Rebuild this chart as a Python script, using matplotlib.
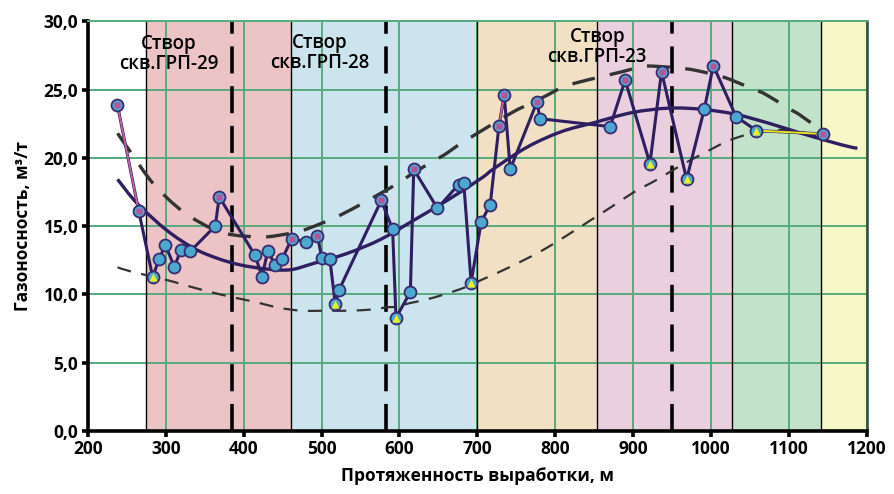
import matplotlib
matplotlib.use("Agg")
import matplotlib.pyplot as plt
from matplotlib.path import Path
from matplotlib.patches import PathPatch

plt.rcParams['font.family'] = ['Open Sans', 'DejaVu Sans']

# Measured gas content along the working (distance, m -> m3/t)
distance = [237.7, 265.2, 283.2, 291.0, 299.5, 311.0, 319.3, 331.3, 363.4, 368.6,
            414.5, 423.5, 430.8, 440.7, 449.3, 461.5, 480.6, 494.7, 500.3, 510.6,
            517.5, 522.2, 576.7, 591.2, 595.5, 614.0, 618.3, 648.8, 675.8, 682.6,
            692.0, 704.9, 716.5, 727.7, 734.5, 742.2, 776.6, 780.4, 870.5, 889.8,
            921.6, 936.5, 968.7, 991.5, 1003.0, 1032.2, 1058.4, 1144.3]
gas_content = [23.9, 16.1, 11.25, 12.57, 13.6, 12.0, 13.27, 13.15, 15.0, 17.13,
               12.86, 11.3, 13.15, 12.15, 12.59, 14.05, 13.86, 14.3, 12.64, 12.59,
               9.29, 10.29, 16.89, 14.76, 8.28, 10.17, 19.16, 16.3, 18.04, 18.14,
               10.85, 15.3, 16.57, 22.3, 24.6, 19.16, 24.1, 22.87, 22.29, 25.7,
               19.58, 26.32, 18.43, 23.59, 26.76, 23.02, 22.0, 21.75]
# point type: c - regular, s - high value, t - low value
point_kind = ['s', 's', 't', 'c', 'c', 'c', 'c', 'c', 'c', 's',
              'c', 'c', 'c', 'c', 'c', 's', 'c', 's', 'c', 'c',
              't', 'c', 's', 'c', 't', 'c', 's', 'c', 'c', 'c',
              't', 'c', 'c', 's', 's', 'c', 's', 'c', 'c', 's',
              't', 's', 't', 'c', 's', 'c', 't', 's']

# General trend of gas content
trend_x = [238, 263, 301, 336, 366, 396, 430, 460, 490, 533, 576, 619, 662, 705,
           722, 765, 808, 850, 898, 945, 988, 1031, 1074, 1116, 1168, 1188]
trend_y = [18.43, 16.67, 14.7, 13.37, 12.64, 12.15, 11.85, 11.8, 12.27, 13.0,
           14.03, 15.45, 16.91, 18.5, 19.24, 20.82, 21.92, 22.58, 23.31, 23.64,
           23.56, 23.2, 22.54, 21.8, 20.95, 20.7]

# Upper envelope
upper_x = [238, 255, 284, 322, 363, 387, 413, 432, 460, 477, 507, 524, 553, 572,
           597, 614, 640, 657, 683, 743, 769, 790, 818, 885, 912, 932, 960, 978,
           1005, 1024, 1054, 1070, 1099, 1114, 1142]
upper_y = [21.8, 20.4, 18.1, 16.06, 14.7, 14.35, 14.22, 14.22, 14.47, 14.7, 15.37,
           15.8, 16.67, 17.28, 18.1, 18.75, 19.65, 20.2, 21.2, 23.27, 24.0, 24.6,
           25.35, 26.3, 26.7, 26.7, 26.57, 26.44, 26.08, 25.76, 25.03, 24.66,
           23.64, 23.15, 22.0]

# Lower envelope
lower_x = [238, 256, 301, 321, 351, 383, 413, 445, 475, 511, 537, 567, 584, 599,
           612, 632, 662, 692, 705, 726, 756, 786, 816, 846, 872, 902, 930, 960,
           992, 1022, 1054, 1097, 1142]
lower_y = [11.98, 11.66, 11.05, 10.73, 10.26, 9.82, 9.46, 9.02, 8.8, 8.8, 8.8, 8.9,
           9.05, 9.09, 9.34, 9.58, 10.07, 10.68, 11.05, 11.58, 12.4, 13.3, 14.35,
           15.45, 16.4, 17.52, 18.38, 19.4, 20.38, 21.24, 21.8, 22.05, 21.55]

# Background zones
zone_edges = [200, 275, 461, 700, 853, 1027, 1141, 1200]
zone_colors = ['#ffffff', '#ecc4c6', '#cce4ee', '#f2e0c4', '#ead0de', '#c2e2ca', '#f5f7c6']

# Well sections
section_x = [385, 583, 950]
section_labels = ['Створ\nскв.ГРП-29', 'Створ\nскв.ГРП-28', 'Створ\nскв.ГРП-23']
label_x = [304, 497, 854]
label_y = [27.6, 27.7, 28.15]

x_ticks = [200, 300, 400, 500, 600, 700, 800, 900, 1000, 1100, 1200]
y_ticks = [0, 5, 10, 15, 20, 25, 30]
y_tick_labels = ['0,0', '5,0', '10,0', '15,0', '20,0', '25,0', '30,0']

line_col = '#2f1f62'
edge_col = '#3a2a70'
grid_col = '#56ab7d'


def smooth_curve(xs, ys):
    """Smoothed line through the points (Catmull-Rom as cubic Bezier)."""
    verts = [(xs[0], ys[0])]
    codes = [Path.MOVETO]
    n = len(xs)
    for i in range(n - 1):
        x0, y0 = (xs[i - 1], ys[i - 1]) if i > 0 else (xs[i], ys[i])
        x1, y1 = xs[i], ys[i]
        x2, y2 = xs[i + 1], ys[i + 1]
        x3, y3 = (xs[i + 2], ys[i + 2]) if i + 2 < n else (x2, y2)
        verts += [(x1 + (x2 - x0) / 6, y1 + (y2 - y0) / 6),
                  (x2 - (x3 - x1) / 6, y2 - (y3 - y1) / 6),
                  (x2, y2)]
        codes += [Path.CURVE4] * 3
    return Path(verts, codes)


fig = plt.figure(figsize=(8.94, 4.94), dpi=100)
ax = fig.add_axes([0.0984, 0.128, 0.8711, 0.8287])
ax.set_xlim(200, 1200)
ax.set_ylim(0, 30)

for i, c in enumerate(zone_colors):
    ax.axvspan(zone_edges[i], zone_edges[i + 1], color=c, lw=0, zorder=0.2)
for e in zone_edges[1:-1]:
    ax.axvline(e, color='black', lw=1.0, zorder=0.7)

ax.set_axisbelow(True)
ax.grid(True, color=grid_col, lw=1.4)

for sx in section_x:
    ax.axvline(sx, color='black', lw=2.6, dashes=(7.5, 3.5), zorder=2)

ax.add_patch(PathPatch(smooth_curve(upper_x, upper_y), fill=False, ec='#333333',
                       lw=2.4, ls=(0, (6.9, 4.6)), zorder=3))
ax.add_patch(PathPatch(smooth_curve(lower_x, lower_y), fill=False, ec='#333333',
                       lw=1.6, ls=(0, (6.3, 4.7)), zorder=3))
ax.add_patch(PathPatch(smooth_curve(trend_x, trend_y), fill=False, ec=line_col,
                       lw=2.4, capstyle='butt', zorder=4))

ax.plot(distance, gas_content, color=line_col, lw=2.2, zorder=5,
        solid_joinstyle='round')
# highlighted segments
for (a, b), col in [((0, 1), '#c0609f'), ((33, 34), '#c0609f'), ((46, 47), '#e6e622')]:
    ax.plot([distance[a], distance[b]], [gas_content[a], gas_content[b]],
            color=col, lw=1.4, zorder=5.5)

ax.plot(distance, gas_content, ls='none', marker='o', ms=8.6,
        mfc='#4ba9cf', mec=edge_col, mew=1.3, zorder=6)
sq = [i for i, k in enumerate(point_kind) if k == 's']
tr = [i for i, k in enumerate(point_kind) if k == 't']
ax.plot([distance[i] for i in sq], [gas_content[i] for i in sq], ls='none',
        marker='s', ms=4.6, mfc='#b4559a', mec='none', zorder=7)
ax.plot([distance[i] for i in tr], [gas_content[i] for i in tr], ls='none',
        marker='^', ms=5.2, mfc='#eef01c', mec='none', zorder=7)

for t, lx, ly in zip(section_labels, label_x, label_y):
    ax.text(lx, ly, t, ha='center', va='center', fontsize=13.5, fontweight='semibold',
            linespacing=1.0, zorder=8)

ax.set_xticks(x_ticks)
ax.set_yticks(y_ticks)
ax.set_yticklabels(y_tick_labels)
for lab in ax.get_xticklabels() + ax.get_yticklabels():
    lab.set_fontweight('bold')
    lab.set_fontsize(12.5)
ax.tick_params(axis='both', direction='out', length=4, width=2.6, color='black')
ax.tick_params(axis='y', pad=3)
ax.tick_params(axis='x', pad=3)

for s in ['left', 'bottom']:
    ax.spines[s].set_linewidth(2.6)
    ax.spines[s].set_color('black')
ax.spines['top'].set_color(grid_col)
ax.spines['top'].set_linewidth(1.4)
ax.spines['right'].set_color('#2d4d3a')
ax.spines['right'].set_linewidth(1.8)

ax.set_xlabel('Протяженность выработки, м', fontsize=12.5, fontweight='bold', labelpad=6)
ax.set_ylabel('Газоносность, м³/т', fontsize=12.5, fontweight='bold', labelpad=8)

fig.savefig('out.png', dpi=100)
